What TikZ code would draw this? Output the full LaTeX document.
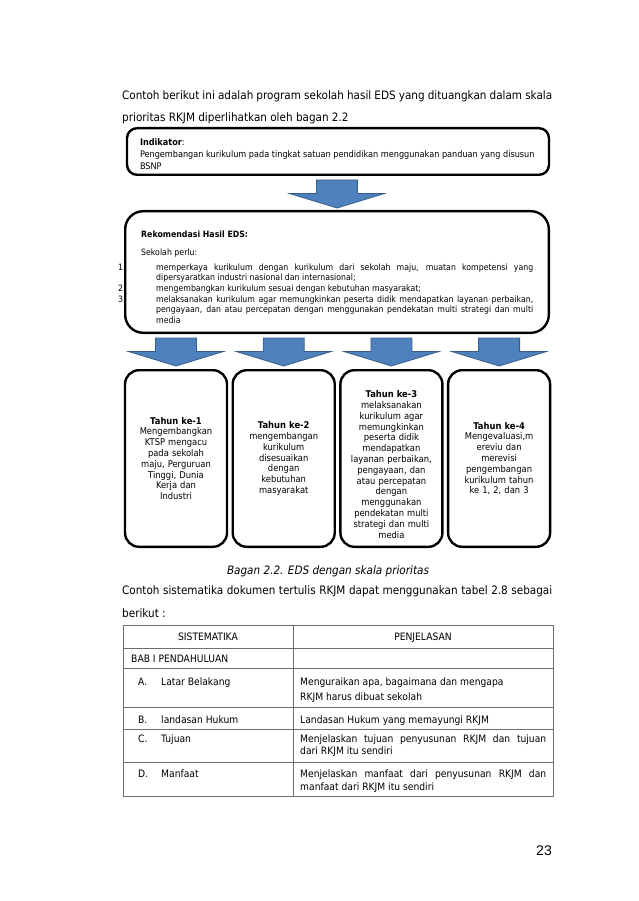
\documentclass[tikz,border=0pt]{standalone}
\usepackage{fontspec}
\setmainfont{DejaVu Sans}[FakeStretch=0.9]
\newfontfamily\pagenofont{Liberation Sans}
\usetikzlibrary{positioning,calc}
\definecolor{arrowblue} {RGB}{79,129,189}
\definecolor{arrowedge} {RGB}{56,93,138}
\definecolor{tablegray} {RGB}{110,110,110}
\newcommand{\fsize}[2]{\fontsize{#1}{#2}\selectfont}
\newcommand{\normalspaces}{\spaceskip=0pt\xspaceskip=0pt\relax}
% justified line of width #1
\newcommand{\jline}[2]{\makebox[#1][s]{\normalspaces #2}}
% block arrow from the bottom of #1 down to the top of #2
\newcommand{\blockarrow}[2]{%
  \filldraw[blockarr] ($(#2.north |- #1.south)+(-20.5,4)$)
    -- ++(41,0) -- ++(0,13.5) -- ++(27,0) -- ++(-47.5,14.5)
    -- ++(-47.5,-14.5) -- ++(27,0) -- cycle;}

\begin{document}
\begin{tikzpicture}[
    x=1pt,y=-1pt,
    box/.style   ={draw,line width=2.4pt,rounded corners=10pt},
    indbox/.style={box,minimum width=422pt,minimum height=46.6pt,
                   text width=396pt,inner xsep=13pt,align=left,
                   font=\fsize{9.05}{12}},
    rekbox/.style={box,rounded corners=18pt,minimum width=423.6pt,
                   minimum height=121.6pt,text width=423.6pt,
                   inner xsep=0pt,align=left,font=\fsize{8.7}{10.6}},
    yearbox/.style={box,rounded corners=14pt,minimum width=102pt,
                   minimum height=176.6pt,text width=96pt,inner xsep=3pt,
                   align=center,font=\fsize{9.3}{10.8}},
    blockarr/.style={fill=arrowblue,draw=arrowedge,line width=0.8pt},
    bodytext/.style={anchor=base west,inner sep=0pt,font=\fsize{11.6}{14}},
    celltext/.style={anchor=base west,inner sep=0pt,font=\fsize{10.2}{12}},
    tableline/.style={draw=tablegray,line width=0.9pt},
  ]
  \useasboundingbox (0,0) rectangle (638,901);

  %% Intro text
  \node[bodytext] (intro1) at (122,100)
    {\jline{430pt}{Contoh berikut ini adalah program sekolah hasil EDS yang dituangkan dalam skala}};
  \node[bodytext] (intro2) at (122,122) {prioritas RKJM diperlihatkan oleh bagan 2.2};

  %% Indikator
  \node[indbox] (ind) at (338,151.5)
    {\normalspaces\rule{0pt}{13pt}\textbf{Indikator}:\\
     \mbox{Pengembangan kurikulum pada tingkat satuan pendidikan menggunakan panduan yang disusun}\\
     BSNP};

  %% Rekomendasi
  \node[rekbox] (rek) at (337,272)
    {\normalspaces\hspace*{16pt}\rule{0pt}{16.5pt}\textbf{Rekomendasi Hasil EDS:}\\[7.5pt]
     \hspace*{16pt}Sekolah perlu:\\[4.5pt]
     \hspace*{-7pt}\makebox[38pt][l]{1.}\jline{377pt}{memperkaya kurikulum dengan kurikulum dari sekolah maju, muatan kompetensi yang}\\
     \hspace*{31pt}dipersyaratkan industri nasional dan internasional;\\
     \hspace*{-7pt}\makebox[38pt][l]{2.}mengembangkan kurikulum sesuai dengan kebutuhan masyarakat;\\
     \hspace*{-7pt}\makebox[38pt][l]{3.}\jline{377pt}{melaksanakan kurikulum agar memungkinkan peserta didik mendapatkan layanan perbaikan,}\\
     \hspace*{31pt}\jline{377pt}{pengayaan, dan atau percepatan dengan menggunakan pendekatan multi strategi dan multi}\\
     \hspace*{31pt}media};

  %% Years
  \node[yearbox] (year1) at (176,458.5)
    {\textbf{Tahun ke-1}\\Mengembangkan\\KTSP mengacu\\pada sekolah\\maju, Perguruan\\Tinggi, Dunia\\Kerja dan\\Industri};
  \node[yearbox] (year2) [right=3.3pt of year1]
    {\textbf{Tahun ke-2}\\mengembangan\\kurikulum\\disesuaikan\\dengan\\kebutuhan\\masyarakat};
  \node[yearbox] (year3) [right=3.3pt of year2]
    {\rule{0pt}{19pt}\textbf{Tahun ke-3}\\melaksanakan\\kurikulum agar\\memungkinkan\\peserta didik\\mendapatkan\\layanan perbaikan,\\pengayaan, dan\\atau percepatan\\dengan\\menggunakan\\pendekatan multi\\strategi dan multi\\media};
  \node[yearbox] (year4) [right=3.3pt of year3]
    {\textbf{Tahun ke-4}\\Mengevaluasi,m\\ereviu dan\\merevisi\\pengembangan\\kurikulum tahun\\ke 1, 2, dan 3};

  %% Arrows
  \blockarrow{ind}{rek}
  \foreach \n in {1,...,4}{\blockarrow{rek}{year\n}}

  %% Caption and text
  \node[bodytext,anchor=base,font=\fsize{11.6}{14}\itshape] (caption) at (328,574)
    {Bagan 2.2. EDS dengan skala prioritas};
  \node[bodytext] (next1) at (122,594)
    {\jline{430pt}{Contoh sistematika dokumen tertulis RKJM dapat menggunakan tabel 2.8 sebagai}};
  \node[bodytext] (next2) at (122,617) {berikut :};

  %% Table
  \draw[tableline] (123,625) rectangle (553,796);
  \foreach \y in {648,668,707,729,762}
    \draw[tableline] (123,\y) -- (553,\y);
  \draw[tableline] (293,625) -- (293,796);

  \node[celltext,anchor=base] (hsis) at (208,640) {SISTEMATIKA};
  \node[celltext,anchor=base] (hpen) at (423,640) {PENJELASAN};
  \node[celltext] (bab) at (131,662) {BAB I PENDAHULUAN};

  \node[celltext] (la) at (138,685) {A.};
  \node[celltext] (sa) at (161,685) {Latar Belakang};
  \node[celltext] (pa1) at (300,685) {Menguraikan apa, bagaimana dan mengapa};
  \node[celltext] (pa2) at (300,700) {RKJM harus dibuat sekolah};

  \node[celltext] (lb) at (138,723) {B.};
  \node[celltext] (sb) at (161,723) {landasan Hukum};
  \node[celltext] (pb) at (300,723) {Landasan Hukum yang memayungi RKJM};

  \node[celltext] (lc) at (138,742) {C.};
  \node[celltext] (sc) at (161,742) {Tujuan};
  \node[celltext] (pc1) at (300,742)
    {\jline{246pt}{Menjelaskan tujuan penyusunan RKJM dan tujuan}};
  \node[celltext] (pc2) at (300,754) {dari RKJM itu sendiri};

  \node[celltext] (ld) at (138,777) {D.};
  \node[celltext] (sd) at (161,777) {Manfaat};
  \node[celltext] (pd1) at (300,777)
    {\jline{246pt}{Menjelaskan manfaat dari penyusunan RKJM dan}};
  \node[celltext] (pd2) at (300,790) {manfaat dari RKJM itu sendiri};

  %% Page number
  \node[anchor=base east,inner sep=0pt,font=\pagenofont\fsize{14}{16}] (pageno) at (552,855) {23};
\end{tikzpicture}
\end{document}
